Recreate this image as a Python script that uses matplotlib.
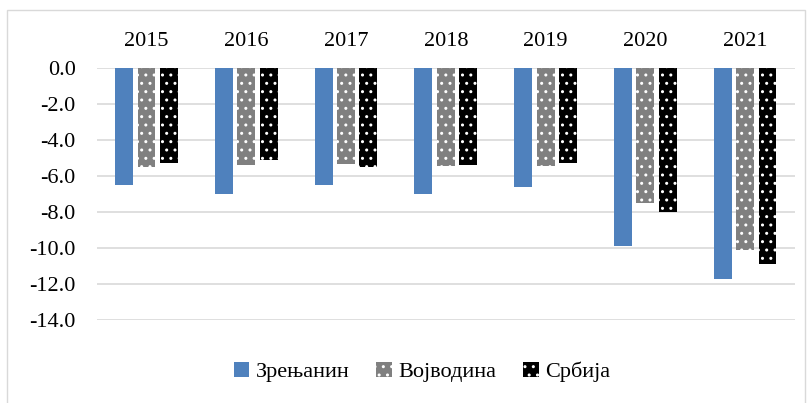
import numpy as np
import matplotlib.pyplot as plt
from matplotlib.patches import Rectangle

plt.rcParams['font.family'] = ['Liberation Serif', 'DejaVu Serif']

# ── data ───────────────────────────────────────────────────────────────────
years = ['2015', '2016', '2017', '2018', '2019', '2020', '2021']
zrenjanin = [-6.5, -7.0, -6.5, -7.0, -6.6, -9.9, -11.7]
vojvodina = [-5.5, -5.4, -5.35, -5.45, -5.45, -7.5, -10.1]
srbija = [-5.3, -5.1, -5.5, -5.4, -5.3, -8.0, -10.9]
yticks = [0, -2, -4, -6, -8, -10, -12, -14]

fig = plt.figure(figsize=(8.12, 4.03), dpi=100)
ax = fig.add_axes([0.119, 0.206, 0.860, 0.625])

# outer chart border
fig.patches.append(Rectangle((0.009, -0.01), 0.982, 0.985, transform=fig.transFigure,
                             fill=False, edgecolor='#d9d9d9', linewidth=1))

x = np.arange(len(years))
w = 0.18
ax.bar(x - 0.225, zrenjanin, w, color='#4f81bd', label='Зрењанин', zorder=3)
ax.bar(x, vojvodina, w, color='#808080', edgecolor='white', linewidth=0,
       hatch='..', label='Војводина', zorder=3)
ax.bar(x + 0.225, srbija, w, color='#000000', edgecolor='white', linewidth=0,
       hatch='..', label='Србија', zorder=3)

ax.set_xlim(-0.5, len(years) - 0.5)
ax.set_ylim(-14, 0)
ax.set_yticks(yticks)
ax.set_yticklabels([f'{v:.1f}' for v in yticks], fontsize=16)
ax.set_xticks(x)
ax.set_xticklabels(years, fontsize=16)
ax.xaxis.tick_top()
ax.tick_params(axis='x', length=0, pad=12)
ax.tick_params(axis='y', length=0, pad=15)
ax.grid(axis='y', color='#d9d9d9', linewidth=1.2, zorder=0)
for s in ax.spines.values():
    s.set_visible(False)

fig.legend(loc='center', bbox_to_anchor=(0.52, 0.077), ncol=3, frameon=False,
           prop={'family': 'Liberation Serif', 'size': 16},
           handlelength=0.7, handleheight=0.7, handletextpad=0.3,
           columnspacing=1.2)

plt.savefig('out.png', dpi=100)
